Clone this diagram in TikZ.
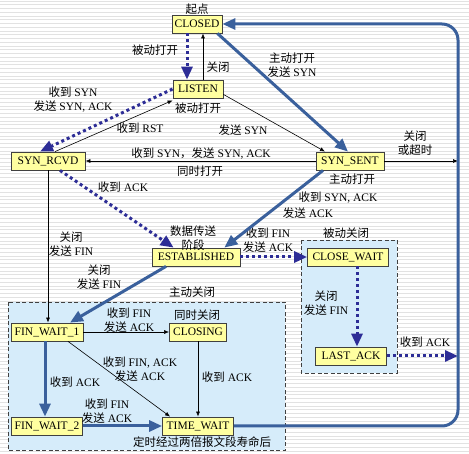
\documentclass[tikz,border=0pt]{standalone}
\usepackage{fontspec}
\setmainfont{Liberation Serif}
\newfontfamily\cjk{Noto Sans CJK SC}
\newcommand\zh[1]{{\cjk #1}}
\usetikzlibrary{arrows.meta}
\definecolor{statefill}{RGB}{255,255,160}
\definecolor{regionfill}{RGB}{214,236,250}
\definecolor{thickblue}{RGB}{58,96,156}
\definecolor{dotblue}{RGB}{45,45,150}
\definecolor{stripe}{RGB}{226,226,226}
\begin{document}
\begin{tikzpicture}[x=1pt, y=-1pt,
  every node/.style={font=\fontsize{11.5}{14}\selectfont},
  state/.style={draw=black!75, fill=statefill, line width=0.8pt, minimum height=18pt, inner xsep=2pt, inner ysep=1pt},
  lbl/.style={inner sep=0pt, align=center},
  region/.style={fill=regionfill, draw=black!75, line width=0.8pt, dash pattern=on 4pt off 2.5pt},
  clientpath/.style={draw=thickblue, line width=3pt, -{Triangle[length=13pt,width=11pt]}},
  serverpath/.style={draw=dotblue, line width=3pt, dash pattern=on 3pt off 3pt, -{Triangle[length=13pt,width=11pt]}},
  otherpath/.style={draw=black, line width=0.6pt, -{Latex[length=5pt,width=4pt]}}]
\useasboundingbox (0,0) rectangle (469,454);
\foreach \i in {0,...,121}
  \draw[stripe, line width=0.9pt] (0,\i*3.75+1) -- (469,\i*3.75+1);

\draw[region] (8,302) rectangle (285,450);
\draw[region] (301,240) rectangle (397,373);

\node[state, minimum width=50pt] (closed) at (197,24){CLOSED};
\node[state, minimum width=50pt] (listen) at (198,89){LISTEN};
\node[state, minimum width=74pt] (synrcvd) at (48,161){SYN\_RCVD};
\node[state, minimum width=68pt] (synsent) at (350,161){SYN\_SENT};
\node[state, minimum width=88pt] (established) at (196,257){ESTABLISHED};
\node[state, minimum width=81pt] (closewait) at (348,257){CLOSE\_WAIT};
\node[state, minimum width=71pt] (lastack) at (351,356){LAST\_ACK};
\node[state, minimum width=72pt] (finwait1) at (47,332){FIN\_WAIT\_1};
\node[state, minimum width=57pt] (closing) at (198,332){CLOSING};
\node[state, minimum width=71pt] (finwait2) at (47,426){FIN\_WAIT\_2};
\node[state, minimum width=71pt] (timewait) at (198,426){TIME\_WAIT};
\coordinate (cornerb) at (458,426);
\coordinate (cornert) at (458,24);
\coordinate (sentend) at (458,161);
\coordinate (ackend) at (458,356);

\node[lbl] (l0) at (197,9){\zh{起点}};
\node[lbl] (l1) at (155,50){\zh{被动打开}};
\node[lbl] (l2) at (218,67){\zh{关闭}};
\node[lbl] (l3) at (292,65){\zh{主动打开}\\\zh{发送} SYN};
\node[lbl] (l4) at (198,108){\zh{被动打开}};
\node[lbl] (l5) at (73,100){\zh{收到} SYN\\\zh{发送} SYN, ACK};
\node[lbl] (l6) at (140,128){\zh{收到} RST};
\node[lbl] (l7) at (243,130){\zh{发送} SYN};
\node[lbl] (l8) at (201,154){\zh{收到} SYN\zh{，发送} SYN, ACK};
\node[lbl] (l9) at (200,171){\zh{同时打开}};
\node[lbl] (l10) at (415,143){\zh{关闭}\\\zh{或超时}};
\node[lbl] (l11) at (352,179){\zh{主动打开}};
\node[lbl] (l12) at (123,187){\zh{收到} ACK};
\node[lbl] (l13) at (338,198){\zh{收到} SYN, ACK};
\node[lbl] (l14) at (308,213){\zh{发送} ACK};
\node[lbl] (l15) at (71,244){\zh{关闭}\\\zh{发送} FIN};
\node[lbl] (l16) at (193,238){\zh{数据传送}\\\zh{阶段}};
\node[lbl] (l17) at (268,240){\zh{收到} FIN\\\zh{发送} ACK};
\node[lbl] (l18) at (346,233){\zh{被动关闭}};
\node[lbl] (l19) at (99,277){\zh{关闭}\\\zh{发送} FIN};
\node[lbl] (l20) at (192,292){\zh{主动关闭}};
\node[lbl] (l21) at (326,303){\zh{关闭}\\\zh{发送} FIN};
\node[lbl] (l22) at (129,320){\zh{收到} FIN\\\zh{发送} ACK};
\node[lbl] (l23) at (197,315){\zh{同时关闭}};
\node[lbl] (l24) at (140,369){\zh{收到} FIN, ACK\\\zh{发送} ACK};
\node[lbl] (l25) at (75,382){\zh{收到} ACK};
\node[lbl] (l26) at (227,377){\zh{收到} ACK};
\node[lbl] (l27) at (107,411){\zh{收到} FIN\\\zh{发送} ACK};
\node[lbl] (l28) at (202,442){\zh{定时经过两倍报文段寿命后}};
\node[lbl] (l29) at (425,342){\zh{收到} ACK};

\draw[serverpath]([xshift=-10pt]closed.south) -- ([xshift=-10pt]closed.south |- listen.north);
\draw[otherpath]([xshift=5pt]listen.north) -- ([xshift=5pt]listen.north |- closed.south);
\draw[clientpath]([xshift=-5pt]closed.south east) -- ([xshift=-2pt]synsent.north);
\draw[otherpath]([yshift=4pt]listen.south east) -- ([xshift=-25pt]synsent.north);
\draw[serverpath](listen.west) -- ([xshift=-8pt]synrcvd.north);
\draw[otherpath]([xshift=7pt]synrcvd.north) -- ([yshift=-2pt]listen.south west);
\draw[otherpath](synsent.west) -- (synrcvd.east);
\draw[otherpath](synsent.east) -- (sentend);
\draw[serverpath]([xshift=12pt]synrcvd.south) -- ([xshift=22pt]established.north west);
\draw[clientpath]([xshift=-27pt]synsent.south) -- ([xshift=-16pt]established.north east);
\draw[otherpath](synrcvd.south) -- (synrcvd.south |- finwait1.north);
\draw[clientpath]([xshift=-30pt]established.south) -- ([xshift=23pt]finwait1.north);
\draw[serverpath](established.east) -- (closewait.west);
\draw[serverpath]([xshift=9pt]closewait.south) -- ([xshift=9pt]closewait.south |- lastack.north);
\draw[serverpath](lastack.east) -- (ackend);
\draw[otherpath](finwait1.east) -- (closing.west);
\draw[otherpath](closing.south) -- (closing.south |- timewait.north);
\draw[otherpath]([xshift=21pt]finwait1.south) -- ([xshift=8pt]timewait.north west);
\draw[clientpath]([xshift=-2pt]finwait1.south) -- ([xshift=-2pt]finwait1.south |- finwait2.north);
\draw[clientpath](finwait2.east) -- (timewait.west);
\draw[clientpath, rounded corners=16pt](timewait.east) -- (cornerb) -- (cornert) -- (closed.east);

\end{tikzpicture}
\end{document}
